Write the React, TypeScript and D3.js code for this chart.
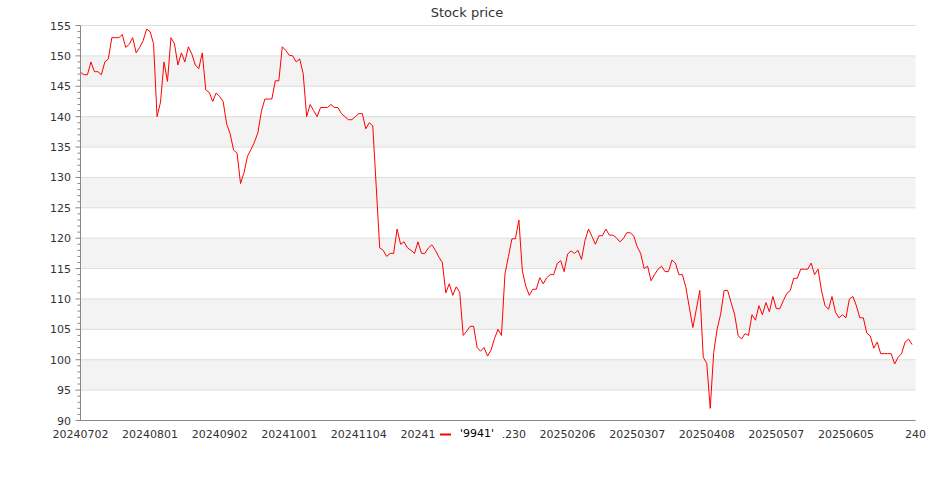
import React from "react";
import * as d3 from "d3";

const prices: number[] = [
  147.3, 146.9, 146.9, 149.0, 147.4, 147.4, 146.9, 149.0, 149.5, 153.0,
  153.0, 153.0, 153.5, 151.4, 151.9, 153.0, 150.5, 151.4, 152.5, 154.4,
  154.0, 152.0, 140.0, 142.4, 149.0, 145.8, 153.0, 152.0, 148.5, 150.5,
  149.0, 151.5, 150.3, 148.5, 147.9, 150.5, 144.4, 144.0, 142.5, 143.9,
  143.3, 142.5, 138.8, 137.2, 134.5, 134.0, 129.0, 130.8, 133.5, 134.6,
  135.8, 137.4, 140.9, 142.9, 142.9, 142.9, 145.9, 145.9, 151.5, 150.9,
  150.1, 150.0, 149.0, 149.5, 147.1, 140.0, 142.0, 141.0, 140.0, 141.5,
  141.5, 141.5, 142.0, 141.5, 141.5, 140.5, 140.0, 139.5, 139.5, 140.0,
  140.5, 140.5, 138.0, 139.0, 138.5, 128.5, 118.4, 118.0, 117.0, 117.5,
  117.5, 121.5, 119.0, 119.4, 118.4, 118.0, 117.5, 119.4, 117.5, 117.5,
  118.4, 118.9, 118.0, 116.9, 116.0, 111.0, 112.5, 110.6, 112.0, 111.1,
  104.0, 104.7, 105.5, 105.5, 102.0, 101.4, 102.0, 100.6, 101.6, 103.5,
  105.0, 104.0, 114.1, 117.0, 119.9, 119.9, 123.0, 114.6, 112.1, 110.6,
  111.6, 111.6, 113.5, 112.5, 113.5, 114.0, 114.0, 115.8, 116.3, 114.5,
  117.4, 117.9, 117.5, 118.0, 116.5, 119.6, 121.5, 120.3, 119.0, 120.4,
  120.4, 121.5, 120.5, 120.5, 120.1, 119.4, 119.9, 120.9, 120.9, 120.4,
  118.6, 117.5, 115.0, 115.4, 113.0, 114.0, 114.9, 115.4, 114.5, 114.5,
  116.4, 115.9, 114.0, 114.0, 111.9, 108.6, 105.3, 108.3, 111.4, 100.4,
  99.4, 92.0, 101.2, 105.1, 107.5, 111.4, 111.4, 109.4, 107.5, 104.0,
  103.4, 104.3, 104.0, 107.4, 106.5, 108.9, 107.4, 109.4, 107.9, 110.4,
  108.4, 108.4, 109.7, 110.9, 111.4, 113.4, 113.4, 114.9, 114.9, 114.9,
  115.9, 114.0, 114.9, 111.3, 108.9, 108.3, 110.4, 107.8, 106.9, 107.4,
  106.9, 110.0, 110.4, 108.9, 106.9, 106.9, 104.4, 103.9, 101.9, 102.9,
  101.0, 101.0, 101.0, 101.0, 99.3, 100.4, 101.0, 102.9, 103.4, 102.5,
];

const xTickIndex: number[] = [0, 20, 40, 60, 80, 100, 120, 140, 160, 180, 200, 220, 240];
const xTickLabels: string[] = [
  "20240702", "20240801", "20240902", "20241001", "20241104", "20241202",
  "20241230", "20250206", "20250307", "20250408", "20250507", "20250605", "240",
];
const yMajorTicks: number[] = [90, 95, 100, 105, 110, 115, 120, 125, 130, 135, 140, 145, 150, 155];
const seriesName = "'9941'";
const title = "Stock price";

const W = 935;
const H = 500;
const left = 80.5;
const right = 915.5;
const top = 25.5;
const bottom = 420.5;
const FONT = "DejaVu Sans, sans-serif";

export default function App() {
  const x = d3.scaleLinear().domain([0, 240]).range([left, right]);
  const y = d3.scaleLinear().domain([90, 155]).range([bottom, top]);
  const line = d3
    .line<number>()
    .x((_, i) => x(i))
    .y((d) => y(d));
  const minor = d3.range(90, 156, 1);
  const bands = yMajorTicks.slice(0, -1).map((v, i) => ({ lo: v, hi: v + 5, gray: i % 2 === 1 }));

  return (
    <svg
      width={W}
      height={H}
      style={{ position: "absolute", left: 0, top: 0, display: "block", background: "#fff" }}
      fontFamily={FONT}
    >
      <text x={467} y={16.5} textAnchor="middle" fontSize={13} fill="#333">
        {title}
      </text>
      {bands.map((b) =>
        b.gray ? (
          <rect key={"b" + b.lo} x={left} y={y(b.hi)} width={right - left} height={y(b.lo) - y(b.hi)} fill="#f3f3f3" />
        ) : null
      )}
      {yMajorTicks.map((v) => (
        <line key={"g" + v} x1={left} x2={right} y1={y(v)} y2={y(v)} stroke="#dddddd" strokeWidth={1} />
      ))}
      <path d={line(prices) || ""} fill="none" stroke="#ff0000" strokeWidth={1} strokeLinejoin="round" />
      {/* y axis */}
      <line x1={left} x2={left} y1={top} y2={bottom} stroke="#888" strokeWidth={1} />
      {minor.map((v) => (
        <line
          key={"m" + v}
          x1={left - (v % 5 === 0 ? 5 : 3)}
          x2={left}
          y1={y(v)}
          y2={y(v)}
          stroke="#888"
          strokeWidth={1}
        />
      ))}
      {yMajorTicks.map((v) => (
        <text key={"yl" + v} x={71} y={y(v) + 4} textAnchor="end" fontSize={11} fill="#333">
          {v}
        </text>
      ))}
      {/* x axis */}
      <line x1={left} x2={right} y1={bottom} y2={bottom} stroke="#888" strokeWidth={1} />
      {xTickIndex.map((t, i) => (
        <text key={"xl" + t} x={x(t)} y={438} textAnchor="middle" fontSize={11} fill="#333">
          {xTickLabels[i]}
        </text>
      ))}
      {/* legend (drawn over the labels, as in the reference) */}
      <rect x={435} y={424} width={68} height={20} fill="#fff" />
      <line x1={440} x2={451} y1={434.5} y2={434.5} stroke="#ff0000" strokeWidth={2} />
      <text x={460} y={437} fontSize={11} fill="#000">
        {seriesName}
      </text>
    </svg>
  );
}
